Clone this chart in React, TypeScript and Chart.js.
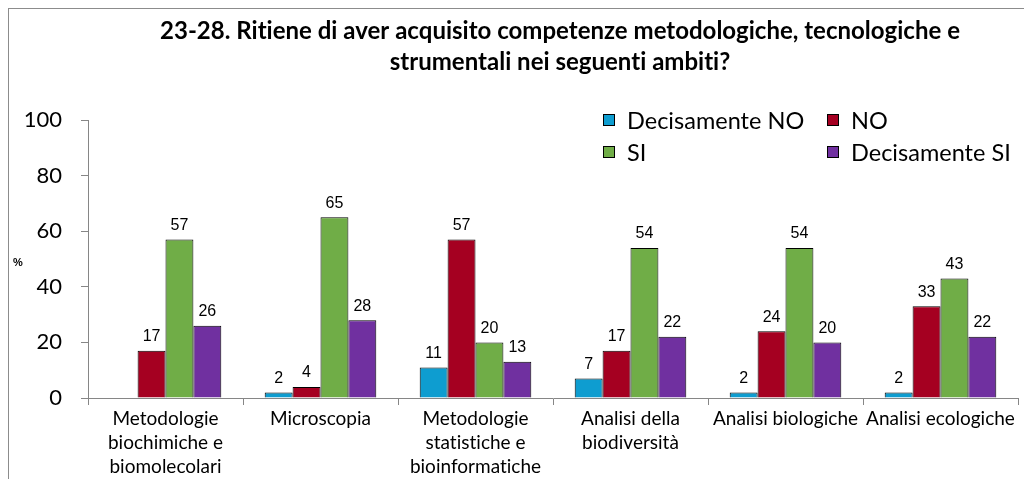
import React, { useEffect, useRef } from "react";
import { Chart, registerables } from "chart.js";

Chart.register(...registerables);

const categories: (string | string[])[] = [
  ["Metodologie", "biochimiche e", "biomolecolari"],
  "Microscopia",
  ["Metodologie", "statistiche e", "bioinformatiche"],
  ["Analisi della", "biodiversità"],
  "Analisi biologiche",
  "Analisi ecologiche",
];
const decisamenteNo = [0, 2, 11, 7, 2, 2];
const no = [17, 4, 57, 17, 24, 33];
const si = [57, 65, 20, 54, 54, 43];
const decisamenteSi = [26, 28, 13, 22, 20, 22];
const seriesNames = ["Decisamente NO", "NO", "SI", "Decisamente SI"];
const seriesColors = ["#0E9DD0", "#A50021", "#70AD47", "#7030A0"];
const yTicks = [0, 20, 40, 60, 80, 100];
const titleLines = [
  "23-28. Ritiene di aver acquisito competenze metodologiche, tecnologiche e",
  "strumentali nei seguenti ambiti?",
];
const yLabel = "%";

const UI_FONT = "Lato, 'Open Sans', sans-serif";
const NUM_FONT = "'Liberation Sans', Arial, sans-serif";

const noLigaturePlugin = {
  id: "noLigature",
  beforeDraw(chart: any) {
    try {
      chart.ctx.letterSpacing = "0.01px";
    } catch (e) {}
  },
};

const overlayPlugin = {
  id: "overlay",
  afterDatasetsDraw(chart: any) {
    const ctx = chart.ctx;
    ctx.save();
    try {
      ctx.letterSpacing = "0.01px";
    } catch (e) {}
    // data labels
    ctx.fillStyle = "#000";
    ctx.font = `16px ${NUM_FONT}`;
    ctx.textAlign = "center";
    ctx.textBaseline = "bottom";
    chart.data.datasets.forEach((ds: any, i: number) => {
      const meta = chart.getDatasetMeta(i);
      meta.data.forEach((el: any, j: number) => {
        const v = ds.data[j];
        if (v > 0) ctx.fillText(String(v), el.x, el.y - 6);
      });
    });
    // title
    ctx.font = `bold 24px ${UI_FONT}`;
    ctx.textBaseline = "middle";
    const cx = 551;
    ctx.fillText(titleLines[0], cx, 22);
    ctx.fillText(titleLines[1], cx, 53);
    // y label
    ctx.font = `bold 11px ${NUM_FONT}`;
    ctx.textAlign = "left";
    ctx.fillText(yLabel, 4, 254);
    // legend
    const cols = [594, 818];
    const rows = [111, 143];
    ctx.font = `23.5px ${UI_FONT}`;
    seriesNames.forEach((name, i) => {
      const x = cols[i % 2];
      const y = rows[Math.floor(i / 2)];
      ctx.fillStyle = seriesColors[i];
      ctx.fillRect(x, y - 6, 12, 12);
      ctx.strokeStyle = "#000";
      ctx.lineWidth = 1;
      ctx.strokeRect(x + 0.5, y - 5.5, 11, 11);
      ctx.fillStyle = "#000";
      ctx.textBaseline = "middle";
      ctx.fillText(name, x + 24, y + 1);
    });
    ctx.restore();
  },
};

export default function App() {
  const ref = useRef<HTMLCanvasElement>(null);
  useEffect(() => {
    if (!ref.current) return;
    const values = [decisamenteNo, no, si, decisamenteSi];
    const chart = new Chart(ref.current, {
      type: "bar",
      data: {
        labels: categories,
        datasets: values.map((d, i) => ({
          label: seriesNames[i],
          data: d,
          backgroundColor: seriesColors[i],
          borderColor: "#000",
          borderWidth: (c: any) => (c.raw > 0 ? 1 : 0),
          barPercentage: 1,
          categoryPercentage: 0.72,
        })),
      },
      options: {
        responsive: false,
        animation: false,
        layout: { padding: { top: 111, right: 14, left: 0, bottom: 0 } },
        plugins: {
          legend: { display: false },
          title: { display: false },
          tooltip: { enabled: false },
        },
        scales: {
          x: {
            grid: {
              display: true,
              drawOnChartArea: false,
              drawTicks: true,
              tickLength: 7,
              color: "#868686",
              offset: true,
            },
            border: { color: "#868686" },
            ticks: {
              color: "#000",
              font: { family: UI_FONT, size: 19, lineHeight: 1.25 },
              maxRotation: 0,
              autoSkip: false,
              padding: 2,
            },
            afterFit: (s: any) => {
              s.height = 81;
            },
          },
          y: {
            min: 0,
            max: 100,
            afterBuildTicks: (s: any) => {
              s.ticks = yTicks.map((v) => ({ value: v }));
            },
            grid: {
              display: true,
              drawOnChartArea: false,
              drawTicks: true,
              tickLength: 7,
              color: "#868686",
            },
            border: { color: "#868686" },
            ticks: {
              color: "#000",
              font: { family: UI_FONT, size: 22 },
              padding: 19,
            },
            afterFit: (s: any) => {
              s.width = 79;
            },
          },
        },
      },
      plugins: [noLigaturePlugin, overlayPlugin],
    } as any);
    return () => chart.destroy();
  }, []);
  return (
    <div
      style={{
        width: 1024,
        height: 471,
        borderTop: "1px solid #8c8c8c",
        borderLeft: "1px solid #8c8c8c",
        boxSizing: "border-box",
        position: "relative",
        background: "#fff",
      }}
    >
      <canvas
        ref={ref}
        width={1023}
        height={470}
        style={{ position: "absolute", left: 0, top: 0 }}
      />
    </div>
  );
}
